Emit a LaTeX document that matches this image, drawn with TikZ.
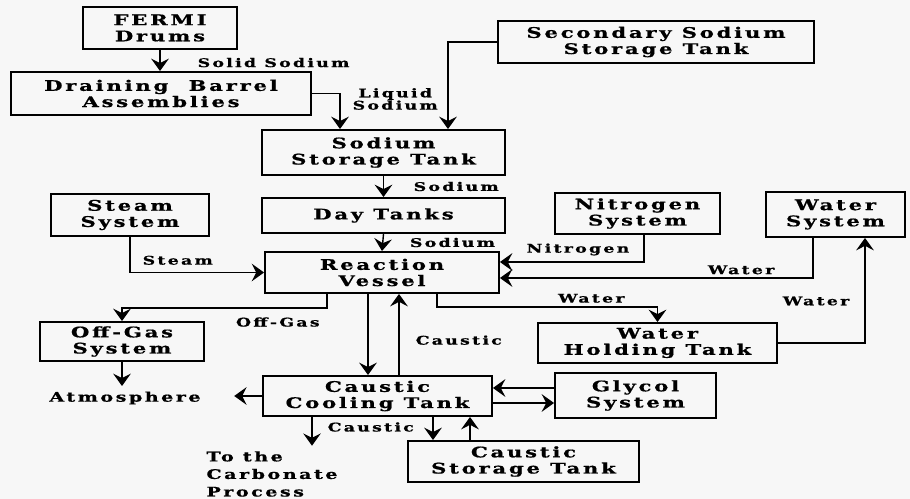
\documentclass[tikz,border=0pt]{standalone}
\usepackage{fontspec}
\setmainfont{DejaVu Serif}
\newfontfamily\widefont{DejaVu Serif}[FakeStretch=1.45,LetterSpace=19,FakeBold=0.8]
\usetikzlibrary{arrows.meta}
\definecolor{paper}{RGB}{247,247,247}
\tikzset{
	unit/.style={draw, line width=1.1pt, inner sep=0pt, align=center, font=\widefont\bfseries\fontsize{8.3}{9.2}\selectfont},
	lbl/.style={inner sep=0pt, align=center, font=\widefont\bfseries\fontsize{6.8}{7}\selectfont},
	note/.style={inner sep=3pt, font=\widefont\bfseries\fontsize{7.5}{10}\selectfont},
	flow/.style={line width=.8pt, -{Stealth[length=7pt,width=10pt,inset=2.5pt]}}
}
\begin{document}
\begin{tikzpicture}[x=0.02cm,y=-0.02cm]
	\fill[paper] (0,0) rectangle (910,499);
	\useasboundingbox (0,0) rectangle (910,499);

	\node[unit, minimum width=3.08cm, minimum height=.84cm] (fermi) at (160,28) {FERMI\\Drums};
	\node[unit, minimum width=6cm, minimum height=.86cm] (drain) at (161,93.5) {Draining\ \ Barrel\\Assemblies};
	\node[unit, minimum width=6.32cm, minimum height=.84cm] (secnd) at (656,42) {Secondary Sodium\\Storage Tank};
	\node[unit, minimum width=4.86cm, minimum height=.9cm] (stor) at (383.5,152.5) {Sodium\\Storage Tank};
	\node[unit, minimum width=4.86cm, minimum height=.7cm] (day) at (383.5,215.5) {Day Tanks};
	\node[unit, minimum width=4.68cm, minimum height=.82cm] (react) at (382,272.5) {Reaction\\Vessel};
	\node[unit, minimum width=3.16cm, minimum height=.84cm] (steam) at (130,215) {Steam\\System};
	\node[unit, minimum width=3.3cm, minimum height=.82cm] (nitro) at (637.5,213.5) {Nitrogen\\System};
	\node[unit, minimum width=2.78cm, minimum height=.9cm] (wsys) at (835.5,214.5) {Water\\System};
	\node[unit, minimum width=4.78cm, minimum height=.8cm] (whold) at (657.5,343) {Water\\Holding Tank};
	\node[unit, minimum width=3.28cm, minimum height=.78cm] (offgas) at (122,341.5) {Off-Gas\\System};
	\node[unit, minimum width=4.58cm, minimum height=.8cm] (cool) at (377.5,396) {Caustic\\Cooling Tank};
	\node[unit, minimum width=3.22cm, minimum height=.9cm] (glyc) at (635.5,395.5) {Glycol\\System};
	\node[unit, minimum width=4.62cm, minimum height=.82cm] (cstor) at (523.5,461.5) {Caustic\\Storage Tank};
	\node[note] (atmos) at (125,398) {Atmosphere};
	\node[note, align=left] (carb) at (272,474) {To the\\Carbonate\\Process};

	\coordinate (liq) at (340,0);
	\coordinate (sec) at (448,0);
	\coordinate (cdn) at (368,0);
	\coordinate (cup) at (399,0);
	\coordinate (ccarb) at (312,0);
	\coordinate (cs1) at (433,0);
	\coordinate (cs2) at (470,0);
	\coordinate (gin) at (0,388);
	\coordinate (gout) at (0,403);

	\draw[flow] (fermi.south) -- (fermi.south |- drain.north) node[lbl, pos=.6, anchor=west, xshift=.74cm] {Solid Sodium};
	\draw[flow] (drain.east) -| (liq |- stor.north) node[lbl, pos=.5, anchor=west, xshift=.24cm, yshift=-.11cm] {Liquid\\Sodium};
	\draw[flow] (secnd.west) -| (sec |- stor.north);
	\draw[flow] (stor.south) -- (day.north) node[lbl, midway, right=.59cm] {Sodium};
	\draw[flow] (day.south) -- (react.north) node[lbl, midway, right=.53cm] {Sodium};
	\draw[flow] (steam.south) |- (react.west) node[lbl, pos=.5, anchor=south west, xshift=.24cm, yshift=.14cm] {Steam};
	\draw[flow] ([xshift=.13cm]nitro.south) |- ([yshift=.21cm]react.east) node[lbl, pos=.5, anchor=south east, xshift=-.28cm, yshift=.12cm] {Nitrogen};
	\draw[flow] ([xshift=-.45cm]wsys.south) |- ([yshift=-.11cm]react.east) node[lbl, pos=.5, anchor=south east, xshift=-.76cm, yshift=.06cm] {Water};
	\draw[flow] ([xshift=1.1cm]react.south) -- ++(0,13) -| (whold.north) node[lbl, pos=.35, above=2pt] {Water};
	\draw[flow] (whold.east) -| ([xshift=.59cm]wsys.south) node[lbl, pos=.7, left=.3cm] {Water};
	\draw[flow] ([xshift=-1.1cm]react.south) -- ++(0,14) -| (offgas.north) node[lbl, pos=.12, below=5pt] {Off-Gas};
	\draw[flow] (offgas.south) -- (offgas.south |- atmos.north);
	\draw[flow, shorten >=.56cm] (cool.west) -- (cool.west -| atmos.east);

	\draw[flow] (cdn |- react.south) -- (cdn |- cool.north);
	\draw[flow] (cup |- cool.north) -- (cup |- react.south) node[lbl, pos=.43, right=.32cm] {Caustic};
	\draw[flow] (ccarb |- cool.south) -- (ccarb |- carb.north) node[lbl, pos=.35, right=.3cm] {Caustic};
	\draw[flow] (cs1 |- cool.south) -- (cs1 |- cstor.north);
	\draw[flow] (cs2 |- cstor.north) -- (cs2 |- cool.south);
	\draw[flow] (gin -| glyc.west) -- (gin -| cool.east);
	\draw[flow] (gout -| cool.east) -- (gout -| glyc.west);
\end{tikzpicture}
\end{document}
